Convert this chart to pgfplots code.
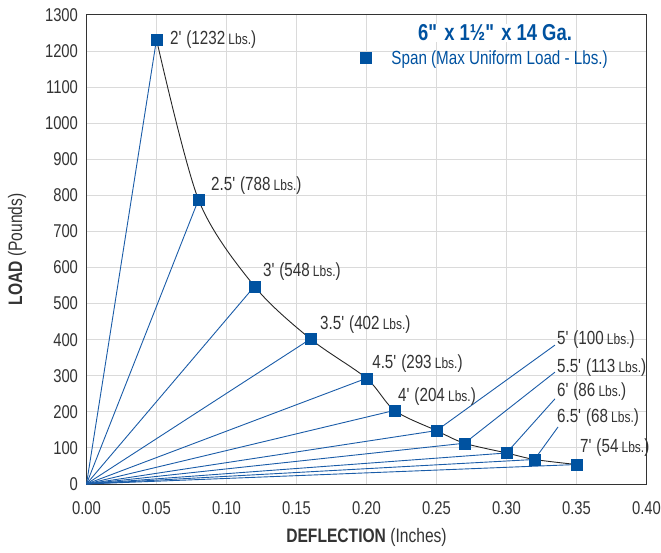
\documentclass[border=0pt]{standalone}
\usepackage{pgfplots}
\pgfplotsset{compat=1.18}
\usepackage{fontspec}
\setmainfont{Liberation Sans}[FakeStretch=0.8]
\definecolor{mblue}{RGB}{0,82,160}
\definecolor{lblue}{RGB}{26,92,168}
\definecolor{txt}{RGB}{51,51,51}
\definecolor{grd}{RGB}{218,218,218}
\newcommand{\lb}[2]{#1\textquotesingle{} (#2\,{\fontsize{15}{16}\selectfont Lbs.})}
\begin{document}
\begin{tikzpicture}
\begin{axis}[
  at={(0,0)}, anchor=south west,
  scale only axis, width=560pt, height=469pt,
  xmin=0, xmax=0.40, ymin=0, ymax=1300,
  xtick={0,0.05,0.10,0.15,0.20,0.25,0.30,0.35,0.40},
  xticklabels={0.00,0.05,0.10,0.15,0.20,0.25,0.30,0.35,0.40},
  ytick={0,100,...,1300},
  /pgf/number format/assume math mode=true,
  yticklabel style={/pgf/number format/1000 sep={}, xshift=-5pt},
  ticklabel style={font=\fontsize{18.5}{20}\selectfont, text=txt},
  xticklabel style={yshift=-14pt},
  major tick length=0pt,
  grid=major, grid style={grd, line width=1pt},
  axis line style={black!80, line width=1pt},
  xlabel={\fontsize{19.5}{21}\selectfont\textbf{DEFLECTION} (Inches)},
  ylabel={\fontsize{19.5}{21}\selectfont\textbf{LOAD} (Pounds)},
  label style={text=txt},
  xlabel style={yshift=-7pt},
  ylabel style={yshift=12pt},
  clip=false,
  legend style={at={(axis cs:0.1957,1181)}, anchor=west, draw=none, fill=none,
    font=\fontsize{19}{20}\selectfont, text=mblue, inner sep=0pt, outer sep=0pt},
  legend cell align=left,
]
% rays from origin
\foreach \px/\py in {0.05/1232,0.08/788,0.12/548,0.16/402,0.20/293,0.22/204,0.25/148,0.27/113,0.30/86,0.32/68,0.35/54}{
  \edef\tmp{\noexpand\addplot[lblue, line width=0.9pt, forget plot] coordinates {(0,0) (\px,\py)};}
  \tmp
}
% leader lines
\addplot[lblue, line width=0.9pt, forget plot] coordinates {(0.25,148) (0.3346,385)};
\addplot[lblue, line width=0.9pt, forget plot] coordinates {(0.27,113) (0.3346,310)};
\addplot[lblue, line width=0.9pt, forget plot] coordinates {(0.30,86) (0.3346,236)};
\addplot[lblue, line width=0.9pt, forget plot] coordinates {(0.32,68) (0.3368,158)};
% curve
\addplot[black!85, line width=0.9pt, smooth, forget plot] coordinates {
(0.05,1232) (0.08,788) (0.12,548) (0.16,402) (0.20,293) (0.22,204) (0.25,148) (0.27,113) (0.30,86) (0.32,68) (0.35,54)};
% markers
\addplot[only marks, mark=square*, mark size=5.5pt, mark options={fill=mblue, draw=mblue}] coordinates {
(0.05,1232) (0.08,788) (0.12,548) (0.16,402) (0.20,293) (0.22,204) (0.25,148) (0.27,113) (0.30,86) (0.32,68) (0.35,54)};
\addlegendentry{\hspace{18pt}Span (Max Uniform Load - Lbs.)}
% labels
\begin{scope}[every node/.style={anchor=west, text=txt, font=\fontsize{19}{21}\selectfont, inner sep=0pt}]
\node at (axis cs:0.0596,1233) {\lb{2}{1232}};
\node at (axis cs:0.0889,826) {\lb{2.5}{788}};
\node at (axis cs:0.126,588) {\lb{3}{548}};
\node at (axis cs:0.1668,441) {\lb{3.5}{402}};
\node at (axis cs:0.204,335) {\lb{4.5}{293}};
\node at (axis cs:0.2225,241) {\lb{4}{204}};
\node at (axis cs:0.336,399) {\lb{5}{100}};
\node at (axis cs:0.336,324) {\lb{5.5}{113}};
\node at (axis cs:0.336,255) {\lb{6}{86}};
\node at (axis cs:0.336,183) {\lb{6.5}{68}};
\node at (axis cs:0.3525,100) {\lb{7}{54}};
\end{scope}
\node[fill=white, text=mblue, font=\bfseries\fontsize{23}{25}\selectfont, inner sep=1pt] at (axis cs:0.2918,1250) {6\textquotedbl{} x 1½\textquotedbl{} x 14 Ga.};
\end{axis}
\pgfresetboundingbox
\path (-86.5pt,-68pt) rectangle (574.5pt,484pt);
\end{tikzpicture}
\end{document}
